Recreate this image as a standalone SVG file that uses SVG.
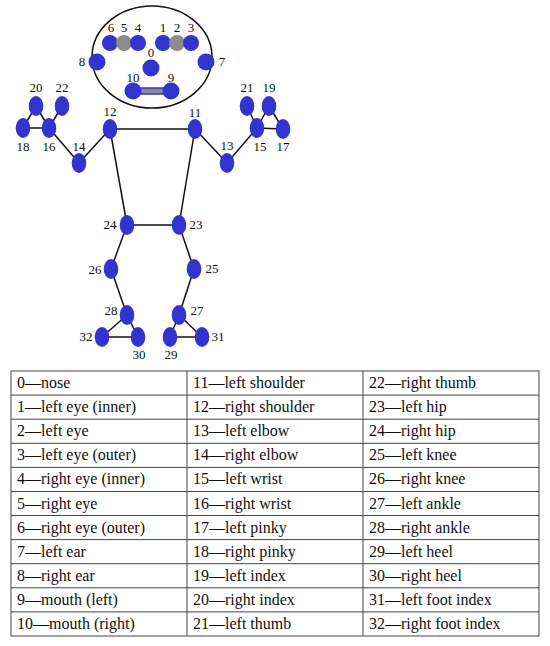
<svg xmlns="http://www.w3.org/2000/svg" width="550" height="646" viewBox="0 0 550 646">
<style>
.n{fill:#3333d0}
.g{fill:#8c8c8c}
.l{font-family:"Liberation Serif","Times New Roman",serif;font-size:13px;fill:#111;text-anchor:middle}
.t{font-family:"Liberation Serif","Times New Roman",serif;font-size:16px;fill:#111}
.e line{stroke:#111;stroke-width:1.5}
.grid line,.grid rect{stroke:#444;stroke-width:1;fill:none}
</style>
<rect width="550" height="646" fill="#fff"/>
<ellipse id="head" cx="152" cy="57" rx="60" ry="51" fill="none" stroke="#111" stroke-width="1.5"/>
<g id="connectors" class="e">
<line x1="110" y1="129" x2="195" y2="129"/>
<line x1="110" y1="129" x2="127" y2="225"/>
<line x1="195" y1="129" x2="179" y2="225"/>
<line x1="127" y1="225" x2="179" y2="225"/>
<line x1="110" y1="129" x2="79" y2="163"/>
<line x1="79" y1="163" x2="49" y2="128"/>
<line x1="49" y1="128" x2="23" y2="128"/>
<line x1="49" y1="128" x2="36" y2="106"/>
<line x1="23" y1="128" x2="36" y2="106"/>
<line x1="49" y1="128" x2="62" y2="106"/>
<line x1="195" y1="129" x2="227" y2="163"/>
<line x1="227" y1="163" x2="257" y2="128"/>
<line x1="257" y1="128" x2="283" y2="129"/>
<line x1="257" y1="128" x2="269" y2="106"/>
<line x1="283" y1="129" x2="269" y2="106"/>
<line x1="257" y1="128" x2="247" y2="106"/>
<line x1="127" y1="225" x2="111" y2="269"/>
<line x1="111" y1="269" x2="127" y2="315"/>
<line x1="179" y1="225" x2="194" y2="269"/>
<line x1="194" y1="269" x2="179" y2="315"/>
<line x1="127" y1="315" x2="102" y2="337"/>
<line x1="127" y1="315" x2="138" y2="337"/>
<line x1="102" y1="337" x2="138" y2="337"/>
<line x1="179" y1="315" x2="170" y2="337"/>
<line x1="179" y1="315" x2="202" y2="337"/>
<line x1="170" y1="337" x2="202" y2="337"/>
</g>
<g id="mouth"><rect x="139" y="88" width="26" height="6" fill="#8c8c8c" stroke="#3333d0" stroke-width="1.5"/></g>
<g id="n6"><circle class="n" cx="110" cy="43" r="8"/><text class="l" x="111" y="32">6</text></g>
<g id="n5"><circle class="g" cx="124" cy="43" r="8"/><text class="l" x="124" y="32">5</text></g>
<g id="n4"><circle class="n" cx="138" cy="43" r="8"/><text class="l" x="138" y="32">4</text></g>
<g id="n1"><circle class="n" cx="163" cy="43" r="8"/><text class="l" x="163" y="32">1</text></g>
<g id="n2"><circle class="g" cx="177" cy="43" r="8"/><text class="l" x="177" y="32">2</text></g>
<g id="n3"><circle class="n" cx="191" cy="43" r="8"/><text class="l" x="191" y="32">3</text></g>
<g id="n8"><circle class="n" cx="97" cy="62" r="8.5"/><text class="l" x="82" y="66">8</text></g>
<g id="n7"><circle class="n" cx="206" cy="62" r="8.5"/><text class="l" x="222" y="66">7</text></g>
<g id="n0"><circle class="n" cx="151" cy="68" r="8.5"/><text class="l" x="151" y="57">0</text></g>
<g id="n10"><circle class="n" cx="133" cy="91" r="8.5"/><text class="l" x="133" y="82">10</text></g>
<g id="n9"><circle class="n" cx="171" cy="91" r="8.5"/><text class="l" x="171" y="82">9</text></g>
<g id="n12"><ellipse class="n" cx="110" cy="129" rx="7.3" ry="10"/><text class="l" x="110" y="116">12</text></g>
<g id="n11"><ellipse class="n" cx="195" cy="129" rx="7.3" ry="10"/><text class="l" x="195" y="117">11</text></g>
<g id="n14"><ellipse class="n" cx="79" cy="163" rx="7.3" ry="10"/><text class="l" x="79" y="151">14</text></g>
<g id="n13"><ellipse class="n" cx="227" cy="163" rx="7.3" ry="10"/><text class="l" x="227" y="150">13</text></g>
<g id="n16"><ellipse class="n" cx="49" cy="128" rx="7.3" ry="10"/><text class="l" x="49" y="151">16</text></g>
<g id="n18"><ellipse class="n" cx="23" cy="128" rx="7.3" ry="10"/><text class="l" x="23" y="151">18</text></g>
<g id="n20"><ellipse class="n" cx="36" cy="106" rx="7.3" ry="10"/><text class="l" x="36" y="92">20</text></g>
<g id="n22"><ellipse class="n" cx="62" cy="106" rx="7.3" ry="10"/><text class="l" x="62" y="92">22</text></g>
<g id="n15"><ellipse class="n" cx="257" cy="128" rx="7.3" ry="10"/><text class="l" x="260" y="151">15</text></g>
<g id="n17"><ellipse class="n" cx="283" cy="129" rx="7.3" ry="10"/><text class="l" x="283" y="151">17</text></g>
<g id="n19"><ellipse class="n" cx="269" cy="106" rx="7.3" ry="10"/><text class="l" x="269" y="92">19</text></g>
<g id="n21"><ellipse class="n" cx="247" cy="106" rx="7.3" ry="10"/><text class="l" x="247" y="92">21</text></g>
<g id="n24"><ellipse class="n" cx="127" cy="225" rx="7.3" ry="10"/><text class="l" x="110" y="229">24</text></g>
<g id="n23"><ellipse class="n" cx="179" cy="225" rx="7.3" ry="10"/><text class="l" x="196" y="229">23</text></g>
<g id="n26"><ellipse class="n" cx="111" cy="269" rx="7.3" ry="10"/><text class="l" x="95" y="274">26</text></g>
<g id="n25"><ellipse class="n" cx="194" cy="269" rx="7.3" ry="10"/><text class="l" x="212" y="273">25</text></g>
<g id="n28"><ellipse class="n" cx="127" cy="315" rx="7.3" ry="10"/><text class="l" x="111" y="315">28</text></g>
<g id="n27"><ellipse class="n" cx="179" cy="315" rx="7.3" ry="10"/><text class="l" x="197" y="315">27</text></g>
<g id="n32"><ellipse class="n" cx="102" cy="337" rx="7.3" ry="10"/><text class="l" x="86" y="341">32</text></g>
<g id="n30"><ellipse class="n" cx="138" cy="337" rx="7.3" ry="10"/><text class="l" x="139" y="359">30</text></g>
<g id="n29"><ellipse class="n" cx="170" cy="337" rx="7.3" ry="10"/><text class="l" x="171" y="359">29</text></g>
<g id="n31"><ellipse class="n" cx="202" cy="337" rx="7.3" ry="10"/><text class="l" x="218" y="341">31</text></g>
<g id="table">
<g class="grid">
<rect x="11" y="371" width="528" height="265"/>
<line x1="187" y1="371" x2="187" y2="636"/>
<line x1="363" y1="371" x2="363" y2="636"/>
<line x1="11" y1="395.1" x2="539" y2="395.1"/>
<line x1="11" y1="419.2" x2="539" y2="419.2"/>
<line x1="11" y1="443.3" x2="539" y2="443.3"/>
<line x1="11" y1="467.4" x2="539" y2="467.4"/>
<line x1="11" y1="491.5" x2="539" y2="491.5"/>
<line x1="11" y1="515.5" x2="539" y2="515.5"/>
<line x1="11" y1="539.6" x2="539" y2="539.6"/>
<line x1="11" y1="563.7" x2="539" y2="563.7"/>
<line x1="11" y1="587.8" x2="539" y2="587.8"/>
<line x1="11" y1="611.9" x2="539" y2="611.9"/>
</g>
<text class="t" x="17" y="388">0—nose</text>
<text class="t" x="17" y="412">1—left eye (inner)</text>
<text class="t" x="17" y="436">2—left eye</text>
<text class="t" x="17" y="460">3—left eye (outer)</text>
<text class="t" x="17" y="484">4—right eye (inner)</text>
<text class="t" x="17" y="509">5—right eye</text>
<text class="t" x="17" y="533">6—right eye (outer)</text>
<text class="t" x="17" y="557">7—left ear</text>
<text class="t" x="17" y="581">8—right ear</text>
<text class="t" x="17" y="605">9—mouth (left)</text>
<text class="t" x="17" y="629">10—mouth (right)</text>
<text class="t" x="193" y="388">11—left shoulder</text>
<text class="t" x="193" y="412">12—right shoulder</text>
<text class="t" x="193" y="436">13—left elbow</text>
<text class="t" x="193" y="460">14—right elbow</text>
<text class="t" x="193" y="484">15—left wrist</text>
<text class="t" x="193" y="509">16—right wrist</text>
<text class="t" x="193" y="533">17—left pinky</text>
<text class="t" x="193" y="557">18—right pinky</text>
<text class="t" x="193" y="581">19—left index</text>
<text class="t" x="193" y="605">20—right index</text>
<text class="t" x="193" y="629">21—left thumb</text>
<text class="t" x="369" y="388">22—right thumb</text>
<text class="t" x="369" y="412">23—left hip</text>
<text class="t" x="369" y="436">24—right hip</text>
<text class="t" x="369" y="460">25—left knee</text>
<text class="t" x="369" y="484">26—right knee</text>
<text class="t" x="369" y="509">27—left ankle</text>
<text class="t" x="369" y="533">28—right ankle</text>
<text class="t" x="369" y="557">29—left heel</text>
<text class="t" x="369" y="581">30—right heel</text>
<text class="t" x="369" y="605">31—left foot index</text>
<text class="t" x="369" y="629">32—right foot index</text>
</g>
</svg>
